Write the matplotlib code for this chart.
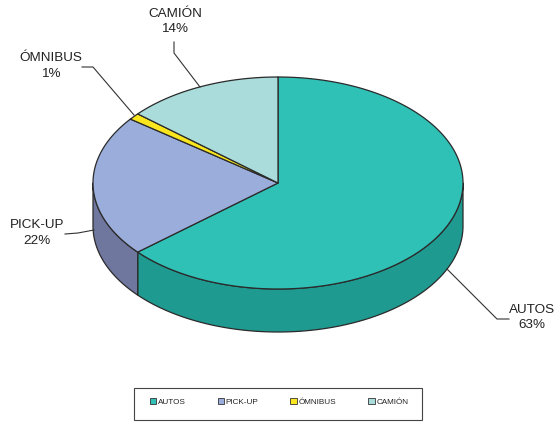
import numpy as np
import matplotlib
matplotlib.use('Agg')
import matplotlib.pyplot as plt
from matplotlib.patches import Patch, Rectangle

labels = ['AUTOS', 'PICK-UP', 'ÓMNIBUS', 'CAMIÓN']
# slice sizes as measured on the picture, the printed percents are rounded differently
values = [63.7, 21.6, 1.0, 13.7]
percents = ['63%', '22%', '1%', '14%']
top_colors = ['#2FC0B6', '#9BAEDB', '#FAE61E', '#A9DCDA']
side_colors = ['#1F9A90', '#6F779F', '#B5A616', '#7BA09E']

plt.rcParams['font.family'] = ['Liberation Sans', 'DejaVu Sans']

# pie geometry in picture pixels
cx, cy = 278, 183
rx, ry = 185, 106
depth = 43
edge = '#2a2a2a'
text_color = '#222222'


def arc(t1, t2):
    t = np.radians(np.linspace(t1, t2, 200))
    return cx + rx * np.sin(t), cy - ry * np.cos(t)


fig = plt.figure(figsize=(5.57, 4.22), dpi=100)
ax = fig.add_axes([0, 0, 1, 1])
ax.set_xlim(0, 557)
ax.set_ylim(422, 0)
ax.axis('off')

# turn the values into angles, clockwise from the top
ends = np.cumsum(values) / sum(values) * 360
starts = np.concatenate([[0], ends[:-1]])

# side wall, only the front half of the ellipse shows
for s, e, c in zip(starts, ends, side_colors):
    a = max(s, 90)
    b = min(e, 270)
    if a >= b:
        continue
    x, y = arc(a, b)
    xs = np.concatenate([x, x[::-1]])
    ys = np.concatenate([y, y[::-1] + depth])
    ax.fill(xs, ys, facecolor=c, edgecolor=edge, linewidth=0.9, joinstyle='round')

# top of the pie
for s, e, c in zip(starts, ends, top_colors):
    x, y = arc(s, e)
    xs = np.concatenate([[cx], x, [cx]])
    ys = np.concatenate([[cy], y, [cy]])
    ax.fill(xs, ys, facecolor=c, edgecolor=edge, linewidth=0.9, joinstyle='round')

# leader lines
leaders = [
    ([447, 497, 509], [269, 319, 319]),
    ([65, 78, 94], [234, 233, 230]),
    ([82, 93, 134], [67, 67, 115]),
    ([174, 174, 200], [42, 53, 87]),
]
for lx, ly in leaders:
    ax.plot(lx, ly, color='#333333', linewidth=0.8)

# slice labels
label_pos = [(532, 317.5), (37, 233), (51, 66), (175, 21.5)]
for name, p, (px, py) in zip(labels, percents, label_pos):
    ax.text(px, py, f'{name}\n{p}', ha='center', va='center', fontsize=9.7,
            color=text_color, linespacing=1.4)

# legend box, the entries sit a bit above its middle
ax.add_patch(Rectangle((134, 388), 288, 32, facecolor='white',
                       edgecolor='#444444', linewidth=0.8))
handles = [Patch(facecolor=c, edgecolor='#333333', linewidth=0.6) for c in top_colors]
leg = ax.legend(handles, labels, ncol=4, loc='center',
                bbox_to_anchor=(279 / 557, 1 - 402 / 422),
                fontsize=5.9, frameon=False, handlelength=0.8, handleheight=0.8,
                handletextpad=0.2, columnspacing=3.9,
                borderpad=0, borderaxespad=0)
for t in leg.get_texts():
    t.set_color(text_color)

fig.savefig('out.png', dpi=100)
